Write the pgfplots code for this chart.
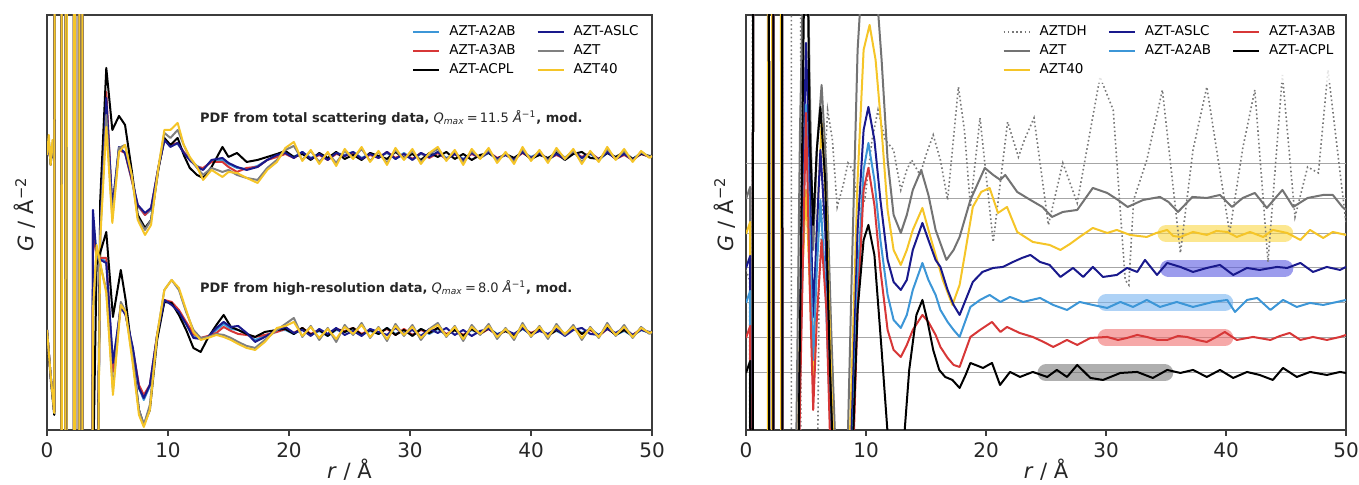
\documentclass[border=0pt]{standalone}
\usepackage{fontspec}
\setmainfont{DejaVu Sans}
\usepackage{pgfplots}
\pgfplotsset{compat=1.18}
\usepackage{pgfplotstable}

\definecolor{cA2AB}{RGB}{60,150,215}
\definecolor{cA3AB}{RGB}{215,55,55}
\definecolor{cACPL}{RGB}{0,0,0}
\definecolor{cASLC}{RGB}{25,25,140}
\definecolor{cAZT}{RGB}{128,128,128}
\definecolor{cAZT40}{RGB}{245,197,40}
\definecolor{cDH}{RGB}{120,120,120}
\definecolor{cFrame}{RGB}{60,60,60}
\definecolor{bandY}{RGB}{250,215,70}
\definecolor{bandN}{RGB}{90,90,225}
\definecolor{bandL}{RGB}{120,180,240}
\definecolor{bandR}{RGB}{240,110,110}
\definecolor{bandK}{RGB}{110,110,110}

% upper group (total scattering), left panel
\pgfplotstableread{
r a2ab a3ab acpl aslc azt azt40
0.00 275 275 275 275 275 275
0.15 285 285 288 285 290 295
0.30 268 268 265 268 266 265
0.45 285 285 284 285 287 290
0.60 272 272 270 272 271 272
0.75 3000 3000 3000 3000 3000 3000
1.10 3000 3000 3000 3000 3000 3000
1.25 -3000 -3000 -3000 -3000 -3000 -3000
1.55 -3000 -3000 -3000 -3000 -3000 -3000
1.70 3000 3000 3000 3000 3000 3000
2.25 3000 3000 3000 3000 3000 3000
2.40 -3000 -3000 -3000 -3000 -3000 -3000
2.55 -3000 -3000 -3000 -3000 -3000 -3000
2.70 3000 3000 3000 3000 3000 3000
2.80 3000 3000 3000 3000 3000 3000
2.95 -3000 -3000 -3000 -3000 -3000 -3000
3.80 -600 -600 -600 -600 -600 -600
4.40 200 205 230 202 195 190
4.90 330 338 362 332 315 303
5.40 222 220 300 222 212 207
5.95 282 280 314 283 282 278
6.45 277 277 305 277 285 285
7.00 250 250 260 252 255 255
7.50 224 225 215 225 212 210
8.10 215 215 202 217 200 195
8.60 220 222 210 222 210 205
9.20 262 262 260 262 262 262
9.70 289 290 292 290 297 300
10.20 285 285 285 283 292 300
10.80 286 287 292 287 300 307
11.30 278 278 275 277 285 285
11.80 270 270 262 270 272 273
12.40 264 263 255 263 262 263
12.90 261 262 252 260 255 250
13.60 269 268 263 270 262 260
14.50 270 268 283 272 258 253
15.00 266 263 273 267 260 258
15.70 262 258 277 263 255 257
16.50 261 262 268 260 252 252
17.40 264 263 270 263 250 247
18.20 270 270 273 270 262 260
19.00 274 273 276 275 270 268
19.7 277 276 279 277 280 282
20.4 273 272 273 272 284 288
21.1 278 277 276 278 270 269
21.8 272 271 270 271 279 280
22.5 276 275 277 276 268 266
23.2 271 270 272 270 277 278
23.9 277 276 278 277 267 264
24.6 275 274 271 274 279 281
25.3 278 277 275 278 272 271
26.0 272 271 270 271 281 283
26.7 276 275 277 276 269 268
27.4 273 272 274 272 278 279
28.1 277 278 271 278 267 265
28.8 271 272 278 271 280 282
29.5 277 276 272 276 271 270
30.2 271 271 276 270 279 281
30.9 276 277 270 277 268 266
31.6 273 272 277 273 276 277
32.3 278 277 273 278 281 283
33.0 272 271 278 271 270 269
33.7 276 276 271 276 279 280
34.4 271 270 276 270 267 265
35.1 277 276 270 277 279 281
35.8 272 272 275 272 272 271
36.5 277 278 277 278 280 282
37.2 271 272 271 271 269 267
37.9 275 275 276 275 277 278
38.6 271 271 272 270 268 266
39.3 278 277 278 278 281 283
40.0 273 272 271 272 270 269
40.7 277 277 275 277 279 280
41.4 270 271 272 270 269 267
42.1 276 275 277 276 280 282
42.8 272 271 270 271 272 271
43.5 279 278 276 279 279 281
44.2 272 273 278 272 268 266
44.9 276 277 272 277 278 279
45.6 270 271 271 270 269 268
46.3 277 278 277 278 281 283
47.0 272 271 273 271 271 270
47.7 276 275 278 276 279 281
48.4 271 270 271 270 269 268
49.1 277 276 276 277 278 279
49.8 273 273 274 273 273 272
50.0 274 274 274 274 274 274
}\tabUp

% lower group (high-resolution), left panel
\pgfplotstableread{
r a2ab a3ab acpl aslc azt azt40
0.00 100 100 100 100 100 100
0.30 55 55 52 55 55 55
0.60 18 18 15 18 17 17
0.80 3000 3000 3000 3000 3000 3000
1.15 3000 3000 3000 3000 3000 3000
1.30 -3000 -3000 -3000 -3000 -3000 -3000
1.45 -3000 -3000 -3000 -3000 -3000 -3000
1.60 3000 3000 3000 3000 3000 3000
2.15 3000 3000 3000 3000 3000 3000
2.30 -3000 -3000 -3000 -3000 -3000 -3000
2.60 -3000 -3000 -3000 -3000 -3000 -3000
2.75 3000 3000 3000 3000 3000 3000
2.85 3000 3000 3000 3000 3000 3000
3.00 -3000 -3000 -3000 -3000 -3000 -3000
3.65 -400 -400 -400 -400 -400 -400
3.80 210 200 -50 220 110 120
4.10 175 172 165 172 180 185
4.90 168 172 198 167 140 137
5.45 65 58 113 67 40 35
6.10 124 125 160 123 128 125
6.50 115 115 130 115 118 118
7.10 80 80 70 82 70 65
7.60 42 45 20 42 20 15
8.00 30 35 5 32 5 3
8.50 44 45 20 45 25 20
9.10 93 95 90 95 95 95
9.70 129 130 128 130 140 140
10.30 127 128 127 125 150 150
10.90 118 120 115 118 140 142
11.50 106 108 100 106 118 120
12.10 93 96 82 92 100 98
12.70 92 92 78 91 92 90
13.30 93 94 92 93 93 92
14.00 100 97 105 102 96 95
14.60 106 103 115 108 95 93
15.20 101 99 103 103 92 90
15.80 100 96 100 104 88 86
16.50 96 95 96 97 84 82
17.20 90 93 93 88 82 80
18.00 94 95 98 93 90 88
19.00 99 98 100 100 100 102
19.7 100 101 101 103 106 104
20.4 96 97 96 97 112 108
21.1 101 102 102 100 93 94
21.8 95 96 95 94 104 103
22.5 99 100 100 101 90 92
23.2 94 95 94 96 102 101
23.9 100 101 101 102 88 91
24.6 98 99 98 95 105 103
25.3 101 102 102 99 95 96
26.0 95 96 95 94 107 105
26.7 99 100 100 101 92 93
27.4 96 97 96 98 103 102
28.1 102 101 102 95 89 91
28.8 96 95 95 102 106 104
29.5 100 101 100 96 94 95
30.2 95 95 94 100 105 103
30.9 101 100 101 94 90 92
31.6 96 97 97 101 101 100
32.3 101 102 102 97 107 105
33.0 95 96 95 102 93 94
33.7 100 100 100 95 104 103
34.4 94 95 94 100 89 91
35.1 100 101 101 94 105 103
35.8 96 96 96 99 95 96
36.5 102 101 102 101 106 104
37.2 96 95 95 95 91 93
37.9 99 99 99 100 102 101
38.6 95 95 94 96 90 92
39.3 101 102 102 102 107 105
40.0 96 97 96 95 93 94
40.7 101 101 101 99 104 103
41.4 95 94 94 96 91 93
42.1 99 100 100 101 106 104
42.8 95 96 95 94 95 96
43.5 102 103 103 100 105 103
44.2 97 96 96 102 90 92
44.9 101 100 101 96 103 102
45.6 95 94 94 95 92 93
46.3 102 101 102 101 107 105
47.0 95 96 95 97 94 95
47.7 99 100 100 102 105 103
48.4 94 95 94 95 92 93
49.1 100 101 101 100 103 102
49.8 97 97 97 98 96 97
50.0 98 98 98 98 98 98
}\tabLo

\pgfplotsset{
  pdfaxis/.style={
    scale only axis, height=207.5pt,
    xmin=0, xmax=50, ymin=0, ymax=415,
    xtick={0,10,20,30,40,50}, ytick=\empty,
    xtick pos=left, tick align=outside, major tick length=3pt,
    axis line style={cFrame, line width=0.7pt},
    every tick/.style={cFrame, line width=0.7pt},
    tick label style={font=\fontsize{10}{12}\selectfont, text=black!85},
    /pgf/number format/assume math mode=true,
    xlabel={\textit{r} / Å},
    ylabel={\textit{G} / Å\textsuperscript{−2}},
    label style={font=\fontsize{10.5}{12}\selectfont, text=black!85},
    xlabel style={at={(axis description cs:0.5,-0.0964)}, anchor=center},
    ylabel style={at={(axis description cs:-0.036,0.52)}, anchor=center},
    legend cell align=left,
    legend style={draw=none, fill=white, fill opacity=0.8, text opacity=1,
      font=\fontsize{6.75}{8}\selectfont, inner sep=2pt, row sep=0pt,
      nodes={inner sep=1.5pt},
      /tikz/every odd column/.append style={column sep=3pt},
      /tikz/every even column/.append style={column sep=9pt}},
    legend image code/.code={\draw[#1, line width=1pt] (0pt,0pt) -- (13pt,0pt);},
  },
  lc/.style={line width=1pt, line join=round, forget plot},
}

\begin{document}
\begin{tikzpicture}
\useasboundingbox (0,0) rectangle (679.5pt,242.5pt);

% ---------------- left panel ----------------
\begin{axis}[pdfaxis, width=302.5pt, at={(23.5pt,27.5pt)}, anchor=south west,
  legend columns=2, legend style={at={(0.99,0.993)}, anchor=north east}]
\addplot[lc, cA2AB] table[x=r, y=a2ab] {\tabUp};
\addplot[lc, cA3AB] table[x=r, y=a3ab] {\tabUp};
\addplot[lc, cACPL] table[x=r, y=acpl] {\tabUp};
\addplot[lc, cASLC] table[x=r, y=aslc] {\tabUp};
\addplot[lc, cAZT] table[x=r, y=azt] {\tabUp};
\addplot[lc, cAZT40] table[x=r, y=azt40] {\tabUp};
\addplot[lc, cA2AB] table[x=r, y=a2ab] {\tabLo};
\addplot[lc, cA3AB] table[x=r, y=a3ab] {\tabLo};
\addplot[lc, cACPL] table[x=r, y=acpl] {\tabLo};
\addplot[lc, cASLC] table[x=r, y=aslc] {\tabLo};
\addplot[lc, cAZT] table[x=r, y=azt] {\tabLo};
\addplot[lc, cAZT40] table[x=r, y=azt40] {\tabLo};
\addlegendimage{cA2AB}\addlegendentry{AZT-A2AB}
\addlegendimage{cASLC}\addlegendentry{AZT-ASLC}
\addlegendimage{cA3AB}\addlegendentry{AZT-A3AB}
\addlegendimage{cAZT}\addlegendentry{AZT}
\addlegendimage{cACPL}\addlegendentry{AZT-ACPL}
\addlegendimage{cAZT40}\addlegendentry{AZT40}
\node[anchor=west, font=\fontsize{6.5}{8}\selectfont, text=black!85] at (axis cs:12.07,312)
  {\textbf{PDF from total scattering data,} \textit{Q}\textsubscript{\textit{max}}\,=\,11.5 \textit{Å}\textsuperscript{−1}\textbf{, mod.}};
\node[anchor=west, font=\fontsize{6.5}{8}\selectfont, text=black!85] at (axis cs:12.07,142)
  {\textbf{PDF from high-resolution data,} \textit{Q}\textsubscript{\textit{max}}\,=\,8.0 \textit{Å}\textsuperscript{−1}\textbf{, mod.}};
\end{axis}

% ---------------- right panel ----------------
\begin{axis}[pdfaxis, width=300pt, at={(373pt,27.5pt)}, anchor=south west,
  legend columns=3, legend style={at={(0.995,0.993)}, anchor=north east}]
\addplot[forget plot, line width=0.5pt, black!35] coordinates {(0,266)(50,266)};
\addplot[forget plot, line width=0.5pt, black!35] coordinates {(0,231)(50,231)};
\addplot[forget plot, line width=0.5pt, black!35] coordinates {(0,196)(50,196)};
\addplot[forget plot, line width=0.5pt, black!35] coordinates {(0,162)(50,162)};
\addplot[forget plot, line width=0.5pt, black!35] coordinates {(0,127)(50,127)};
\addplot[forget plot, line width=0.5pt, black!35] coordinates {(0,92)(50,92)};
\addplot[forget plot, line width=0.5pt, black!35] coordinates {(0,57)(50,57)};
\addplot[forget plot, line width=8.5pt, line cap=round, bandY, opacity=0.6] coordinates {(35.0,196.5)(44.9,196.5)};
\addplot[forget plot, line width=8.5pt, line cap=round, bandN, opacity=0.6] coordinates {(35.2,161.5)(44.9,161.5)};
\addplot[forget plot, line width=8.5pt, line cap=round, bandL, opacity=0.6] coordinates {(30.0,127)(39.9,127)};
\addplot[forget plot, line width=8.5pt, line cap=round, bandR, opacity=0.6] coordinates {(30.0,92)(39.9,92)};
\addplot[forget plot, line width=8.5pt, line cap=round, bandK, opacity=0.55] coordinates {(25.0,57)(34.9,57)};
\addplot[forget plot, cDH, line width=0.8pt, dash pattern=on 0.8pt off 1.3pt] coordinates {
(0,160)(0.3,150)(0.45,-3000)(0.6,3000)(1.85,3000)(2.0,-3000)(2.2,-3000)(2.35,3000)(2.95,3000)(3.1,-3000)
(3.7,-3000)(3.85,3000)(4.5,3000)(4.65,-3000)(5.4,-800)(6.1,150)(6.8,320)(7.2,290)(7.6,223)(8.1,245)
(8.5,267)(8.9,260)(9.4,220)(9.9,230)(10.5,290)(11.0,320)(11.6,290)(12.3,280)(12.9,240)(13.4,260)
(13.8,270)(14.5,255)(15.0,275)(15.6,295)(16.2,270)(16.8,230)(17.7,343)(18.2,300)(18.7,223)(19.5,312)
(20.6,188)(21.8,308)(22.7,273)(23.2,290)(24.0,312)(25.2,205)(26.4,267)(27.6,227)(29.5,353)(30.6,320)
(31.6,150)(31.9,145)(32.3,230)(33.4,270)(34.7,340)(36.2,177)(37.25,280)(38.4,343)(40.3,197)(41.4,282)
(42.4,340)(43.5,168)(44.7,355)(45.75,213)(46.8,263)(47.7,257)(48.5,360)(50,207)};
\addplot[lc, cAZT!90!black] coordinates {
(0,231)(0.35,243)(0.5,-3000)(0.65,3000)(1.85,3000)(2.0,-3000)(2.2,-3000)(2.35,3000)(2.95,3000)(3.1,-3000)
(3.6,-1000)(4.0,-200)(4.5,300)(5.0,600)(5.3,350)(5.6,180)(5.9,280)(6.3,345)(6.7,260)(7.1,100)
(7.7,-100)(8.3,-100)(8.8,150)(9.3,380)(9.8,480)(10.2,500)(10.7,470)(11.3,370)(11.8,270)(12.3,215)
(12.9,197)(13.4,215)(13.9,240)(14.6,260)(15.2,235)(15.8,200)(16.7,170)(17.3,180)(17.8,193)(18.7,230)
(19.9,262)(20.6,255)(21.2,250)(21.6,255)(22.6,238)(23.7,230)(24.7,223)(25.5,213)(26.4,218)(27.6,220)
(28.9,242)(30.1,237)(31.0,230)(31.8,223)(33.1,230)(34.5,233)(35.2,228)(36.0,218)(37.2,233)(38.4,232)
(39.5,235)(40.5,223)(41.4,232)(42.4,237)(43.4,222)(44.7,240)(45.6,223)(46.8,232)(48.1,235)(48.9,235)
(49.7,223)(50,220)};
\addplot[lc, cAZT40] coordinates {
(0,196)(0.35,208)(0.5,-3000)(0.65,3000)(1.75,3000)(1.9,-3000)(2.1,-3000)(2.25,3000)(2.85,3000)(3.0,-3000)
(3.6,-1000)(4.0,-300)(4.5,100)(5.0,240)(5.3,150)(5.6,50)(5.9,200)(6.3,307)(6.7,220)(7.1,50)
(7.7,-150)(8.3,-150)(8.8,50)(9.3,250)(9.8,380)(10.3,405)(10.8,370)(11.3,300)(11.8,220)(12.3,180)
(12.9,165)(13.4,180)(13.9,200)(14.7,222)(15.2,200)(15.8,175)(16.4,150)(17.2,125)(17.8,145)(18.2,173)
(18.9,223)(19.6,238)(20.3,242)(21.0,217)(21.75,223)(22.6,198)(23.9,188)(25.3,185)(26.2,180)(27.0,186)
(27.8,193)(28.9,202)(30.1,197)(30.9,200)(32.0,195)(33.4,193)(34.2,197)(35.1,200)(35.6,194)(36.2,193)
(37.25,198)(38.4,195)(39.2,199)(40.1,198)(40.9,193)(42.0,198)(43.1,193)(43.9,200)(45.1,197)(46.2,190)
(47.0,200)(48.1,192)(48.9,198)(50,195)};
\addplot[lc, cASLC] coordinates {
(0,162)(0.35,174)(0.5,-3000)(0.65,3000)(1.85,3000)(2.0,-3000)(2.2,-3000)(2.35,3000)(2.95,3000)(3.1,-3000)
(3.6,-1500)(4.0,-400)(4.5,100)(5.0,387)(5.3,260)(5.6,113)(5.9,200)(6.2,280)(6.6,200)(7.1,20)
(7.7,-150)(8.3,-150)(8.8,0)(9.3,200)(9.8,300)(10.2,323)(10.7,290)(11.2,230)(11.8,170)(12.3,148)
(12.9,140)(13.4,150)(13.9,180)(14.7,207)(15.2,190)(15.8,170)(16.2,163)(16.8,140)(17.3,125)(17.8,115)
(18.9,148)(19.7,158)(20.6,162)(21.4,163)(22.25,168)(23.0,172)(23.7,175)(24.5,168)(25.3,165)(26.2,153)
(27.25,162)(28.1,153)(28.9,163)(29.75,153)(30.9,155)(31.75,162)(32.6,158)(33.25,170)(34.25,155)(35.1,167)
(36.2,163)(37.25,158)(38.4,162)(39.5,165)(40.6,155)(41.75,162)(42.8,160)(44.25,163)(45.1,162)(46.2,167)
(47.25,158)(48.4,163)(49.5,160)(50,163)};
\addplot[lc, cA2AB] coordinates {
(0,127)(0.35,139)(0.5,-3000)(0.65,3000)(1.85,3000)(2.0,-3000)(2.2,-3000)(2.35,3000)(2.95,3000)(3.1,-3000)
(3.6,-1500)(4.0,-400)(4.5,50)(5.0,325)(5.3,200)(5.6,70)(5.9,160)(6.2,230)(6.6,150)(7.1,-20)
(7.7,-200)(8.3,-200)(8.8,-50)(9.3,150)(9.8,260)(10.2,287)(10.7,250)(11.2,190)(11.8,135)(12.3,110)
(12.9,102)(13.4,115)(13.9,140)(14.7,167)(15.2,150)(15.8,135)(16.2,120)(16.8,108)(17.3,100)(17.8,93)
(18.7,123)(19.5,130)(20.3,135)(21.2,128)(22.0,133)(23.1,128)(24.5,132)(25.6,125)(26.75,120)(27.8,128)
(28.9,125)(30.1,122)(31.2,128)(32.25,123)(33.4,130)(34.5,123)(35.9,128)(37.25,123)(38.9,128)(40.1,130)
(40.75,118)(41.75,130)(42.6,132)(43.7,120)(44.75,130)(45.9,123)(47.0,127)(48.1,125)(49.25,128)(50,130)};
\addplot[lc, cA3AB] coordinates {
(0,92)(0.35,104)(0.5,-3000)(0.65,3000)(1.85,3000)(2.0,-3000)(2.2,-3000)(2.35,3000)(2.95,3000)(3.1,-3000)
(3.6,-1500)(4.0,-400)(4.5,30)(5.0,317)(5.3,150)(5.6,20)(5.9,110)(6.3,190)(6.7,120)(7.1,-50)
(7.7,-250)(8.3,-250)(8.8,-80)(9.3,120)(9.8,240)(10.2,262)(10.7,225)(11.2,160)(11.8,100)(12.3,80)
(12.9,73)(13.4,85)(13.9,100)(14.7,115)(15.2,108)(15.8,95)(16.2,83)(16.8,72)(17.3,65)(17.8,63)
(18.7,93)(19.5,100)(20.5,108)(21.2,98)(21.75,103)(22.8,97)(23.9,93)(24.8,88)(25.6,83)(26.75,90)
(27.6,85)(28.7,92)(30.1,93)(31.0,90)(31.75,92)(32.6,95)(33.4,93)(34.3,90)(35.1,90)(36.0,94)
(36.75,93)(37.6,90)(38.4,88)(39.2,93)(39.9,98)(40.9,90)(42.25,93)(43.7,90)(44.5,94)(45.3,97)
(46.2,90)(47.25,93)(48.4,90)(49.5,93)(50,95)};
\addplot[lc, cACPL] coordinates {
(0,57)(0.35,69)(0.5,-3000)(0.65,3000)(1.85,3000)(2.0,-3000)(2.2,-3000)(2.35,3000)(2.95,3000)(3.1,-3000)
(3.6,-1500)(4.0,-600)(4.4,0)(4.7,300)(5.0,600)(5.3,300)(5.6,205)(5.9,280)(6.2,323)(6.6,250)
(7.0,60)(7.6,-150)(8.2,-200)(8.8,-50)(9.3,120)(9.8,190)(10.2,205)(10.7,175)(11.3,80)(11.9,-20)
(12.5,-80)(13.1,-20)(13.6,60)(14.2,115)(14.7,130)(15.1,110)(15.6,80)(16.1,60)(16.6,53)(17.2,50)
(17.8,42)(18.3,55)(18.7,67)(19.75,62)(20.5,67)(21.17,45)(22.0,58)(22.83,53)(23.9,58)(25.1,53)
(25.9,60)(26.75,53)(27.6,65)(28.7,52)(29.75,50)(31.2,57)(32.6,58)(33.9,52)(35.1,60)(36.2,57)
(37.25,60)(38.4,53)(39.5,60)(40.6,52)(41.75,58)(42.8,55)(43.9,50)(44.75,62)(45.9,53)(47.0,58)
(48.4,55)(49.5,58)(50,57)};
\addlegendimage{cDH, dash pattern=on 0.8pt off 1.3pt}\addlegendentry{AZTDH}
\addlegendimage{cASLC}\addlegendentry{AZT-ASLC}
\addlegendimage{cA3AB}\addlegendentry{AZT-A3AB}
\addlegendimage{cAZT!90!black}\addlegendentry{AZT}
\addlegendimage{cA2AB}\addlegendentry{AZT-A2AB}
\addlegendimage{cACPL}\addlegendentry{AZT-ACPL}
\addlegendimage{cAZT40}\addlegendentry{AZT40}
\end{axis}
\end{tikzpicture}
\end{document}
